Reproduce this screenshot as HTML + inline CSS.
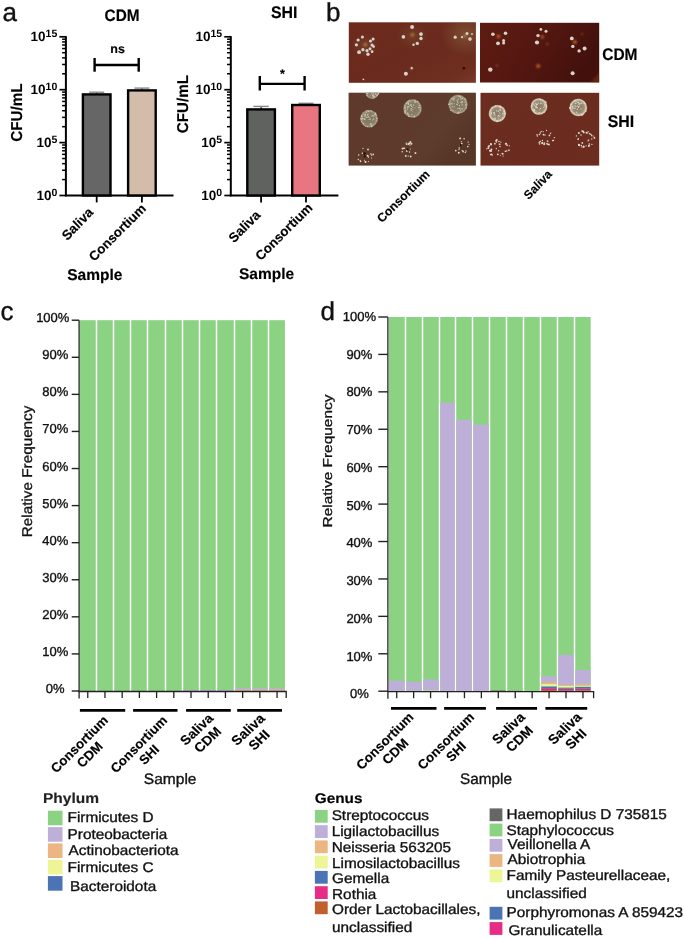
<!DOCTYPE html>
<html><head><meta charset="utf-8"><style>
html,body{margin:0;padding:0;background:#fff;}
svg{display:block;font-family:"Liberation Sans", sans-serif;}
text{text-rendering:geometricPrecision;}
svg{will-change:transform;}
</style></head><body>
<svg width="685" height="940" viewBox="0 0 685 940">
<rect width="685" height="940" fill="#fff"/>
<text x="2.60" y="20.60" font-size="26" text-anchor="start" fill="#111" stroke="#111" stroke-width="0.35">a</text>
<text x="326.00" y="20.60" font-size="26" text-anchor="start" fill="#111" stroke="#111" stroke-width="0.35">b</text>
<text x="0.60" y="320.20" font-size="26" text-anchor="start" fill="#111" stroke="#111" stroke-width="0.35">c</text>
<text x="320.60" y="320.20" font-size="26" text-anchor="start" fill="#111" stroke="#111" stroke-width="0.35">d</text>
<line x1="65.90" y1="36.10" x2="65.90" y2="196.30" stroke="#000" stroke-width="2"/>
<line x1="64.90" y1="195.50" x2="173.50" y2="195.50" stroke="#000" stroke-width="2"/>
<line x1="59.40" y1="36.80" x2="65.90" y2="36.80" stroke="#000" stroke-width="1.7"/>
<line x1="59.40" y1="89.70" x2="65.90" y2="89.70" stroke="#000" stroke-width="1.7"/>
<line x1="59.40" y1="142.60" x2="65.90" y2="142.60" stroke="#000" stroke-width="1.7"/>
<line x1="59.40" y1="195.50" x2="65.90" y2="195.50" stroke="#000" stroke-width="1.7"/>
<line x1="62.10" y1="73.78" x2="65.90" y2="73.78" stroke="#000" stroke-width="1.5"/>
<line x1="62.10" y1="64.46" x2="65.90" y2="64.46" stroke="#000" stroke-width="1.5"/>
<line x1="62.10" y1="57.85" x2="65.90" y2="57.85" stroke="#000" stroke-width="1.5"/>
<line x1="62.10" y1="52.72" x2="65.90" y2="52.72" stroke="#000" stroke-width="1.5"/>
<line x1="62.10" y1="48.54" x2="65.90" y2="48.54" stroke="#000" stroke-width="1.5"/>
<line x1="62.10" y1="44.99" x2="65.90" y2="44.99" stroke="#000" stroke-width="1.5"/>
<line x1="62.10" y1="41.93" x2="65.90" y2="41.93" stroke="#000" stroke-width="1.5"/>
<line x1="62.10" y1="39.22" x2="65.90" y2="39.22" stroke="#000" stroke-width="1.5"/>
<line x1="62.10" y1="126.68" x2="65.90" y2="126.68" stroke="#000" stroke-width="1.5"/>
<line x1="62.10" y1="117.36" x2="65.90" y2="117.36" stroke="#000" stroke-width="1.5"/>
<line x1="62.10" y1="110.75" x2="65.90" y2="110.75" stroke="#000" stroke-width="1.5"/>
<line x1="62.10" y1="105.62" x2="65.90" y2="105.62" stroke="#000" stroke-width="1.5"/>
<line x1="62.10" y1="101.44" x2="65.90" y2="101.44" stroke="#000" stroke-width="1.5"/>
<line x1="62.10" y1="97.89" x2="65.90" y2="97.89" stroke="#000" stroke-width="1.5"/>
<line x1="62.10" y1="94.83" x2="65.90" y2="94.83" stroke="#000" stroke-width="1.5"/>
<line x1="62.10" y1="92.12" x2="65.90" y2="92.12" stroke="#000" stroke-width="1.5"/>
<line x1="62.10" y1="179.58" x2="65.90" y2="179.58" stroke="#000" stroke-width="1.5"/>
<line x1="62.10" y1="170.26" x2="65.90" y2="170.26" stroke="#000" stroke-width="1.5"/>
<line x1="62.10" y1="163.65" x2="65.90" y2="163.65" stroke="#000" stroke-width="1.5"/>
<line x1="62.10" y1="158.52" x2="65.90" y2="158.52" stroke="#000" stroke-width="1.5"/>
<line x1="62.10" y1="154.34" x2="65.90" y2="154.34" stroke="#000" stroke-width="1.5"/>
<line x1="62.10" y1="150.79" x2="65.90" y2="150.79" stroke="#000" stroke-width="1.5"/>
<line x1="62.10" y1="147.73" x2="65.90" y2="147.73" stroke="#000" stroke-width="1.5"/>
<line x1="62.10" y1="145.02" x2="65.90" y2="145.02" stroke="#000" stroke-width="1.5"/>
<text x="57.30" y="41.40" font-size="13.5" font-weight="bold" text-anchor="end" fill="#000">10<tspan font-size="10.5" dy="-4.2">15</tspan></text>
<text x="57.30" y="94.30" font-size="13.5" font-weight="bold" text-anchor="end" fill="#000">10<tspan font-size="10.5" dy="-4.2">10</tspan></text>
<text x="57.30" y="147.20" font-size="13.5" font-weight="bold" text-anchor="end" fill="#000">10<tspan font-size="10.5" dy="-4.2">5</tspan></text>
<text x="57.30" y="200.10" font-size="13.5" font-weight="bold" text-anchor="end" fill="#000">10<tspan font-size="10.5" dy="-4.2">0</tspan></text>
<line x1="96.70" y1="92.20" x2="96.70" y2="94.20" stroke="#222" stroke-width="1.2"/>
<line x1="89.20" y1="92.20" x2="104.20" y2="92.20" stroke="#888" stroke-width="1.4"/>
<rect x="82.90" y="94.40" width="27.60" height="101.10" fill="#666666" stroke="#000" stroke-width="2.4"/>
<line x1="141.90" y1="88.10" x2="141.90" y2="90.20" stroke="#222" stroke-width="1.2"/>
<line x1="134.40" y1="88.10" x2="149.40" y2="88.10" stroke="#888" stroke-width="1.4"/>
<rect x="128.10" y="90.40" width="27.60" height="105.10" fill="#d3bca9" stroke="#000" stroke-width="2.4"/>
<line x1="96.70" y1="195.50" x2="96.70" y2="202.40" stroke="#000" stroke-width="1.8"/>
<line x1="141.90" y1="195.50" x2="141.90" y2="202.40" stroke="#000" stroke-width="1.8"/>
<line x1="94.60" y1="65.00" x2="138.70" y2="65.00" stroke="#000" stroke-width="2.3"/>
<line x1="94.60" y1="58.00" x2="94.60" y2="71.70" stroke="#000" stroke-width="2.4"/>
<line x1="138.70" y1="58.00" x2="138.70" y2="71.70" stroke="#000" stroke-width="2.4"/>
<text x="117.60" y="53.10" font-size="12.5" font-weight="bold" text-anchor="middle" fill="#000" stroke="#000" stroke-width="0.15">ns</text>
<g transform="translate(104.61 20.80) scale(0.9912 1.0700)"><text x="0" y="0" font-size="15.5" font-weight="bold" text-anchor="start" fill="#000" stroke="#000" stroke-width="0.15">CDM</text></g>
<g transform="translate(21.60 141.80) scale(1.0545 1.0140)"><text x="0" y="0" font-size="15" font-weight="bold" text-anchor="start" fill="#000" stroke="#000" stroke-width="0.15" transform="rotate(-90)">CFU/mL</text></g>
<g transform="translate(67.16 241.32) scale(0.9727 1.0233)"><text x="0" y="0" font-size="13.5" font-weight="bold" text-anchor="start" fill="#000" stroke="#000" stroke-width="0.15" transform="rotate(-45)">Saliva</text></g>
<g transform="translate(94.21 261.96) scale(0.9810 0.9818)"><text x="0" y="0" font-size="13.5" font-weight="bold" text-anchor="start" fill="#000" stroke="#000" stroke-width="0.15" transform="rotate(-45)">Consortium</text></g>
<g transform="translate(67.20 280.48) scale(1.0019 1.0071)"><text x="0" y="0" font-size="15.5" font-weight="bold" text-anchor="start" fill="#000" stroke="#000" stroke-width="0.15">Sample</text></g>
<line x1="230.80" y1="36.10" x2="230.80" y2="196.30" stroke="#000" stroke-width="2"/>
<line x1="229.80" y1="195.50" x2="338.40" y2="195.50" stroke="#000" stroke-width="2"/>
<line x1="224.30" y1="36.80" x2="230.80" y2="36.80" stroke="#000" stroke-width="1.7"/>
<line x1="224.30" y1="89.70" x2="230.80" y2="89.70" stroke="#000" stroke-width="1.7"/>
<line x1="224.30" y1="142.60" x2="230.80" y2="142.60" stroke="#000" stroke-width="1.7"/>
<line x1="224.30" y1="195.50" x2="230.80" y2="195.50" stroke="#000" stroke-width="1.7"/>
<line x1="227.00" y1="73.78" x2="230.80" y2="73.78" stroke="#000" stroke-width="1.5"/>
<line x1="227.00" y1="64.46" x2="230.80" y2="64.46" stroke="#000" stroke-width="1.5"/>
<line x1="227.00" y1="57.85" x2="230.80" y2="57.85" stroke="#000" stroke-width="1.5"/>
<line x1="227.00" y1="52.72" x2="230.80" y2="52.72" stroke="#000" stroke-width="1.5"/>
<line x1="227.00" y1="48.54" x2="230.80" y2="48.54" stroke="#000" stroke-width="1.5"/>
<line x1="227.00" y1="44.99" x2="230.80" y2="44.99" stroke="#000" stroke-width="1.5"/>
<line x1="227.00" y1="41.93" x2="230.80" y2="41.93" stroke="#000" stroke-width="1.5"/>
<line x1="227.00" y1="39.22" x2="230.80" y2="39.22" stroke="#000" stroke-width="1.5"/>
<line x1="227.00" y1="126.68" x2="230.80" y2="126.68" stroke="#000" stroke-width="1.5"/>
<line x1="227.00" y1="117.36" x2="230.80" y2="117.36" stroke="#000" stroke-width="1.5"/>
<line x1="227.00" y1="110.75" x2="230.80" y2="110.75" stroke="#000" stroke-width="1.5"/>
<line x1="227.00" y1="105.62" x2="230.80" y2="105.62" stroke="#000" stroke-width="1.5"/>
<line x1="227.00" y1="101.44" x2="230.80" y2="101.44" stroke="#000" stroke-width="1.5"/>
<line x1="227.00" y1="97.89" x2="230.80" y2="97.89" stroke="#000" stroke-width="1.5"/>
<line x1="227.00" y1="94.83" x2="230.80" y2="94.83" stroke="#000" stroke-width="1.5"/>
<line x1="227.00" y1="92.12" x2="230.80" y2="92.12" stroke="#000" stroke-width="1.5"/>
<line x1="227.00" y1="179.58" x2="230.80" y2="179.58" stroke="#000" stroke-width="1.5"/>
<line x1="227.00" y1="170.26" x2="230.80" y2="170.26" stroke="#000" stroke-width="1.5"/>
<line x1="227.00" y1="163.65" x2="230.80" y2="163.65" stroke="#000" stroke-width="1.5"/>
<line x1="227.00" y1="158.52" x2="230.80" y2="158.52" stroke="#000" stroke-width="1.5"/>
<line x1="227.00" y1="154.34" x2="230.80" y2="154.34" stroke="#000" stroke-width="1.5"/>
<line x1="227.00" y1="150.79" x2="230.80" y2="150.79" stroke="#000" stroke-width="1.5"/>
<line x1="227.00" y1="147.73" x2="230.80" y2="147.73" stroke="#000" stroke-width="1.5"/>
<line x1="227.00" y1="145.02" x2="230.80" y2="145.02" stroke="#000" stroke-width="1.5"/>
<text x="222.20" y="41.40" font-size="13.5" font-weight="bold" text-anchor="end" fill="#000">10<tspan font-size="10.5" dy="-4.2">15</tspan></text>
<text x="222.20" y="94.30" font-size="13.5" font-weight="bold" text-anchor="end" fill="#000">10<tspan font-size="10.5" dy="-4.2">10</tspan></text>
<text x="222.20" y="147.20" font-size="13.5" font-weight="bold" text-anchor="end" fill="#000">10<tspan font-size="10.5" dy="-4.2">5</tspan></text>
<text x="222.20" y="200.10" font-size="13.5" font-weight="bold" text-anchor="end" fill="#000">10<tspan font-size="10.5" dy="-4.2">0</tspan></text>
<line x1="261.10" y1="106.40" x2="261.10" y2="109.20" stroke="#222" stroke-width="1.2"/>
<line x1="253.40" y1="106.40" x2="268.80" y2="106.40" stroke="#888" stroke-width="1.4"/>
<rect x="247.30" y="109.40" width="27.60" height="86.10" fill="#606260" stroke="#000" stroke-width="2.4"/>
<line x1="306.00" y1="103.30" x2="306.00" y2="104.80" stroke="#222" stroke-width="1.2"/>
<line x1="298.50" y1="103.30" x2="313.50" y2="103.30" stroke="#888" stroke-width="1.4"/>
<rect x="292.20" y="105.00" width="27.60" height="90.50" fill="#e87680" stroke="#000" stroke-width="2.4"/>
<line x1="261.10" y1="195.50" x2="261.10" y2="202.40" stroke="#000" stroke-width="1.8"/>
<line x1="306.00" y1="195.50" x2="306.00" y2="202.40" stroke="#000" stroke-width="1.8"/>
<line x1="259.80" y1="83.80" x2="304.60" y2="83.80" stroke="#000" stroke-width="2.3"/>
<line x1="259.80" y1="76.00" x2="259.80" y2="90.50" stroke="#000" stroke-width="2.4"/>
<line x1="304.60" y1="76.00" x2="304.60" y2="90.50" stroke="#000" stroke-width="2.4"/>
<text x="282.50" y="77.50" font-size="12.5" font-weight="bold" text-anchor="middle" fill="#000" stroke="#000" stroke-width="0.15">*</text>
<g transform="translate(270.88 18.10) scale(1.0250 1.0800)"><text x="0" y="0" font-size="15.5" font-weight="bold" text-anchor="start" fill="#000" stroke="#000" stroke-width="0.15">SHI</text></g>
<g transform="translate(187.50 133.30) scale(1.0455 1.0123)"><text x="0" y="0" font-size="15" font-weight="bold" text-anchor="start" fill="#000" stroke="#000" stroke-width="0.15" transform="rotate(-90)">CFU/mL</text></g>
<g transform="translate(233.94 243.40) scale(0.9879 0.9967)"><text x="0" y="0" font-size="13.5" font-weight="bold" text-anchor="start" fill="#000" stroke="#000" stroke-width="0.15" transform="rotate(-45)">Saliva</text></g>
<g transform="translate(260.71 261.16) scale(0.9810 0.9818)"><text x="0" y="0" font-size="13.5" font-weight="bold" text-anchor="start" fill="#000" stroke="#000" stroke-width="0.15" transform="rotate(-45)">Consortium</text></g>
<g transform="translate(239.00 279.40) scale(0.9981 1.0000)"><text x="0" y="0" font-size="15.5" font-weight="bold" text-anchor="start" fill="#000" stroke="#000" stroke-width="0.15">Sample</text></g>
<defs>
<linearGradient id="g1" x1="0" y1="0" x2="1" y2="1">
 <stop offset="0" stop-color="#6c2b1c"/><stop offset="0.5" stop-color="#6a2a1d"/><stop offset="0.85" stop-color="#6e2e20"/><stop offset="1" stop-color="#7a3a28"/></linearGradient>
<linearGradient id="g2" x1="0" y1="0" x2="1" y2="0.3">
 <stop offset="0" stop-color="#5e1c12"/><stop offset="0.6" stop-color="#521610"/><stop offset="1" stop-color="#43110c"/></linearGradient>
<linearGradient id="g3" x1="0" y1="0" x2="1" y2="0.5">
 <stop offset="0" stop-color="#5f392b"/><stop offset="0.8" stop-color="#5d3b2d"/><stop offset="1" stop-color="#573628"/></linearGradient>
<linearGradient id="g4" x1="0" y1="0" x2="1" y2="1">
 <stop offset="0" stop-color="#6a2d20"/><stop offset="1" stop-color="#6c2c1f"/></linearGradient>
<radialGradient id="col1" cx="0.5" cy="0.5" r="0.5">
 <stop offset="0" stop-color="#7a705c"/><stop offset="0.7" stop-color="#8a806a"/><stop offset="0.9" stop-color="#a89e86"/><stop offset="1" stop-color="#968c74" stop-opacity="0.5"/></radialGradient>
<radialGradient id="col2" cx="0.5" cy="0.5" r="0.5">
 <stop offset="0" stop-color="#8a7a66"/><stop offset="0.65" stop-color="#9c8e78"/><stop offset="0.88" stop-color="#d8d0bc"/><stop offset="1" stop-color="#c0b49c" stop-opacity="0.5"/></radialGradient>
<radialGradient id="hl1" cx="0.5" cy="0.5" r="0.5"><stop offset="0" stop-color="#8a6a40" stop-opacity="0.55"/><stop offset="1" stop-color="#8a6a40" stop-opacity="0"/></radialGradient>
<filter id="bl" x="-50%" y="-50%" width="200%" height="200%"><feGaussianBlur stdDeviation="0.45"/></filter>
<filter id="bl2" x="-50%" y="-50%" width="200%" height="200%"><feGaussianBlur stdDeviation="0.9"/></filter>
<clipPath id="c1"><rect x="348.8" y="22.3" width="127.1" height="60.5"/></clipPath>
<clipPath id="c2"><rect x="480.0" y="22.8" width="119.2" height="59.7"/></clipPath>
<clipPath id="c3"><rect x="348.6" y="92.7" width="127.3" height="72.9"/></clipPath>
<clipPath id="c4"><rect x="480.5" y="92.8" width="118.7" height="72.8"/></clipPath>
</defs>
<rect x="348.8" y="22.3" width="127.1" height="60.5" fill="url(#g1)"/>
<g clip-path="url(#c1)"><ellipse cx="466" cy="34" rx="26" ry="22" fill="url(#hl1)"/><ellipse cx="412" cy="36" rx="16" ry="14" fill="url(#hl1)" opacity="0.5"/><ellipse cx="365" cy="46" rx="14" ry="13" fill="url(#hl1)" opacity="0.5"/></g>
<rect x="480.0" y="22.8" width="119.2" height="59.7" fill="url(#g2)"/>
<rect x="348.6" y="92.7" width="127.3" height="72.9" fill="url(#g3)"/>
<rect x="480.5" y="92.8" width="118.7" height="72.8" fill="url(#g4)"/>
<g clip-path="url(#c1)" filter="url(#bl2)" opacity="0.8">
<circle cx="365.4" cy="44.6" r="1.8" fill="#b8904a"/>
<circle cx="412.4" cy="34.7" r="1.8" fill="#b8904a"/>
<circle cx="465.0" cy="36.0" r="1.6" fill="#b8904a"/>
<circle cx="411.7" cy="68.2" r="1.2" fill="#b8904a"/>
</g>
<g clip-path="url(#c1)"><g filter="url(#bl)">
<circle cx="362.4" cy="36.9" r="1.5" fill="#d6d2cc"/>
<circle cx="358.1" cy="40.0" r="1.6" fill="#d6d2cc"/>
<circle cx="356.4" cy="44.8" r="1.6" fill="#d6d2cc"/>
<circle cx="359.1" cy="52.2" r="1.9" fill="#d6d2cc"/>
<circle cx="362.9" cy="49.7" r="1.6" fill="#d6d2cc"/>
<circle cx="367.0" cy="50.7" r="1.6" fill="#d6d2cc"/>
<circle cx="368.0" cy="54.3" r="1.7" fill="#d6d2cc"/>
<circle cx="370.0" cy="48.7" r="1.5" fill="#d6d2cc"/>
<circle cx="372.1" cy="45.1" r="1.6" fill="#d6d2cc"/>
<circle cx="370.5" cy="41.0" r="1.6" fill="#d6d2cc"/>
<circle cx="373.1" cy="39.0" r="1.5" fill="#d6d2cc"/>
<circle cx="373.6" cy="46.6" r="1.4" fill="#d6d2cc"/>
<circle cx="372.1" cy="51.7" r="1.4" fill="#d6d2cc"/>
<circle cx="363.4" cy="79.3" r="0.9" fill="#d6d2cc"/>
<circle cx="412.1" cy="26.9" r="2.0" fill="#d6d2cc"/>
<circle cx="403.4" cy="36.9" r="1.8" fill="#d6d2cc"/>
<circle cx="421.0" cy="34.1" r="1.9" fill="#d6d2cc"/>
<circle cx="421.0" cy="38.5" r="1.7" fill="#d6d2cc"/>
<circle cx="417.3" cy="43.4" r="1.7" fill="#d6d2cc"/>
<circle cx="413.5" cy="44.8" r="1.2" fill="#d6d2cc"/>
<circle cx="455.2" cy="37.2" r="1.6" fill="#d6d2cc"/>
<circle cx="462.0" cy="37.2" r="1.1" fill="#d6d2cc"/>
<circle cx="467.0" cy="33.5" r="1.5" fill="#d6d2cc"/>
<circle cx="470.0" cy="39.1" r="1.8" fill="#d6d2cc"/>
<circle cx="472.0" cy="34.0" r="0.9" fill="#d6d2cc"/>
<circle cx="405.9" cy="73.8" r="2.0" fill="#d6d2cc"/>
<circle cx="411.7" cy="68.2" r="1.1" fill="#d6d2cc"/>
</g></g>
<circle cx="463.9" cy="68.2" r="1.3" fill="#2a0a05" filter="url(#bl)"/>
<g clip-path="url(#c2)" filter="url(#bl2)" opacity="0.85">
<circle cx="498.5" cy="36.4" r="1.8" fill="#c8702e"/>
<circle cx="538.2" cy="66.0" r="2.0" fill="#c8702e"/>
<circle cx="542.4" cy="36.9" r="1.6" fill="#c8702e"/>
<circle cx="574.9" cy="42.0" r="2.0" fill="#c8702e"/>
<circle cx="582.2" cy="34.1" r="0.9" fill="#c8702e"/>
<circle cx="547.3" cy="44.0" r="0.9" fill="#c8702e"/>
<circle cx="497.0" cy="65.5" r="0.9" fill="#c8702e"/>
</g>
<g clip-path="url(#c2)"><g filter="url(#bl)">
<circle cx="492.9" cy="34.3" r="1.8" fill="#d8d2c8"/>
<circle cx="505.5" cy="33.3" r="1.8" fill="#d8d2c8"/>
<circle cx="503.6" cy="40.5" r="1.5" fill="#d8d2c8"/>
<circle cx="503.6" cy="43.0" r="1.5" fill="#d8d2c8"/>
<circle cx="498.0" cy="43.3" r="1.9" fill="#d8d2c8"/>
<circle cx="490.3" cy="69.6" r="2.2" fill="#d8d2c8"/>
<circle cx="540.9" cy="29.4" r="1.4" fill="#d8d2c8"/>
<circle cx="546.0" cy="31.3" r="1.5" fill="#d8d2c8"/>
<circle cx="538.0" cy="35.6" r="1.7" fill="#d8d2c8"/>
<circle cx="537.0" cy="42.5" r="2.1" fill="#d8d2c8"/>
<circle cx="571.8" cy="38.4" r="1.9" fill="#d8d2c8"/>
<circle cx="572.8" cy="46.4" r="1.7" fill="#d8d2c8"/>
<circle cx="579.1" cy="50.9" r="1.7" fill="#d8d2c8"/>
<circle cx="584.6" cy="48.5" r="2.0" fill="#d8d2c8"/>
<circle cx="572.6" cy="73.2" r="2.0" fill="#d8d2c8"/>
</g></g>
<g clip-path="url(#c2)"><path d="M590 83 L600 72 L600 83 Z" fill="#7a3018" opacity="0.6" filter="url(#bl2)"/></g>
<g clip-path="url(#c3)">
<circle cx="372.1" cy="92.0" r="7.0" fill="url(#col1)" filter="url(#bl)"/>
<g filter="url(#bl)" opacity="0.9">
<circle cx="367.3" cy="93.5" r="0.82" fill="#d4ccb6"/>
<circle cx="367.5" cy="93.0" r="0.68" fill="#d4ccb6"/>
<circle cx="374.0" cy="96.4" r="0.70" fill="#d4ccb6"/>
<circle cx="372.6" cy="90.0" r="0.57" fill="#d4ccb6"/>
<circle cx="377.1" cy="95.2" r="0.73" fill="#d4ccb6"/>
<circle cx="378.5" cy="93.7" r="0.84" fill="#d4ccb6"/>
<circle cx="369.1" cy="87.7" r="0.51" fill="#d4ccb6"/>
<circle cx="376.9" cy="92.5" r="0.47" fill="#d4ccb6"/>
<circle cx="373.3" cy="95.0" r="0.46" fill="#d4ccb6"/>
<circle cx="367.8" cy="93.0" r="0.79" fill="#d4ccb6"/>
<circle cx="366.8" cy="91.4" r="0.65" fill="#d4ccb6"/>
<circle cx="369.7" cy="88.2" r="0.56" fill="#d4ccb6"/>
<circle cx="378.7" cy="91.9" r="0.79" fill="#d4ccb6"/>
<circle cx="371.1" cy="88.4" r="0.54" fill="#d4ccb6"/>
<circle cx="371.7" cy="93.7" r="0.76" fill="#d4ccb6"/>
<circle cx="367.1" cy="95.6" r="0.60" fill="#d4ccb6"/>
<circle cx="378.0" cy="90.4" r="0.45" fill="#d4ccb6"/>
<circle cx="373.7" cy="98.1" r="0.64" fill="#d4ccb6"/>
<circle cx="376.3" cy="91.5" r="0.48" fill="#d4ccb6"/>
<circle cx="368.1" cy="87.7" r="0.56" fill="#d4ccb6"/>
<circle cx="375.4" cy="94.0" r="0.84" fill="#d4ccb6"/>
<circle cx="372.2" cy="89.7" r="0.55" fill="#d4ccb6"/>
<circle cx="373.4" cy="93.0" r="0.77" fill="#d4ccb6"/>
<circle cx="374.3" cy="96.5" r="0.63" fill="#d4ccb6"/>
<circle cx="374.2" cy="97.3" r="0.50" fill="#d4ccb6"/>
<circle cx="370.7" cy="90.2" r="0.62" fill="#d4ccb6"/>
<circle cx="372.9" cy="95.4" r="0.84" fill="#d4ccb6"/>
<circle cx="373.3" cy="88.5" r="0.80" fill="#d4ccb6"/>
<circle cx="373.1" cy="96.0" r="0.79" fill="#d4ccb6"/>
<circle cx="370.8" cy="90.4" r="0.85" fill="#d4ccb6"/>
<circle cx="372.9" cy="95.3" r="0.76" fill="#d4ccb6"/>
<circle cx="370.4" cy="95.2" r="0.48" fill="#d4ccb6"/>
<circle cx="376.4" cy="94.7" r="0.55" fill="#d4ccb6"/>
<circle cx="368.8" cy="89.6" r="0.63" fill="#d4ccb6"/>
<circle cx="376.6" cy="90.8" r="0.68" fill="#d4ccb6"/>
</g></g>
<g clip-path="url(#c3)">
<circle cx="369.0" cy="118.7" r="9.0" fill="url(#col1)" filter="url(#bl)"/>
<g filter="url(#bl)" opacity="0.9">
<circle cx="371.4" cy="116.0" r="0.51" fill="#d4ccb6"/>
<circle cx="375.5" cy="114.5" r="0.55" fill="#d4ccb6"/>
<circle cx="371.7" cy="125.5" r="0.83" fill="#d4ccb6"/>
<circle cx="371.7" cy="126.6" r="0.80" fill="#d4ccb6"/>
<circle cx="364.6" cy="115.3" r="0.49" fill="#d4ccb6"/>
<circle cx="377.1" cy="120.7" r="0.55" fill="#d4ccb6"/>
<circle cx="367.8" cy="114.5" r="0.78" fill="#d4ccb6"/>
<circle cx="365.2" cy="116.1" r="0.52" fill="#d4ccb6"/>
<circle cx="368.6" cy="116.5" r="0.54" fill="#d4ccb6"/>
<circle cx="361.6" cy="115.8" r="0.70" fill="#d4ccb6"/>
<circle cx="367.5" cy="126.7" r="0.53" fill="#d4ccb6"/>
<circle cx="373.4" cy="119.2" r="0.63" fill="#d4ccb6"/>
<circle cx="372.3" cy="120.0" r="0.60" fill="#d4ccb6"/>
<circle cx="366.2" cy="117.3" r="0.59" fill="#d4ccb6"/>
<circle cx="375.6" cy="113.3" r="0.71" fill="#d4ccb6"/>
<circle cx="366.6" cy="112.6" r="0.51" fill="#d4ccb6"/>
<circle cx="370.1" cy="119.0" r="0.81" fill="#d4ccb6"/>
<circle cx="366.5" cy="110.7" r="0.46" fill="#d4ccb6"/>
<circle cx="365.1" cy="114.2" r="0.74" fill="#d4ccb6"/>
<circle cx="365.4" cy="126.5" r="0.48" fill="#d4ccb6"/>
<circle cx="362.0" cy="116.6" r="0.81" fill="#d4ccb6"/>
<circle cx="368.4" cy="111.6" r="0.77" fill="#d4ccb6"/>
<circle cx="373.4" cy="116.1" r="0.72" fill="#d4ccb6"/>
<circle cx="375.5" cy="114.0" r="0.62" fill="#d4ccb6"/>
<circle cx="371.0" cy="111.0" r="0.68" fill="#d4ccb6"/>
<circle cx="365.3" cy="115.0" r="0.68" fill="#d4ccb6"/>
<circle cx="367.1" cy="117.2" r="0.71" fill="#d4ccb6"/>
<circle cx="377.0" cy="118.4" r="0.74" fill="#d4ccb6"/>
<circle cx="363.4" cy="123.4" r="0.68" fill="#d4ccb6"/>
<circle cx="361.7" cy="121.6" r="0.48" fill="#d4ccb6"/>
<circle cx="369.0" cy="117.2" r="0.69" fill="#d4ccb6"/>
<circle cx="364.9" cy="119.2" r="0.73" fill="#d4ccb6"/>
<circle cx="362.3" cy="118.8" r="0.82" fill="#d4ccb6"/>
<circle cx="369.0" cy="119.6" r="0.57" fill="#d4ccb6"/>
<circle cx="367.3" cy="115.2" r="0.52" fill="#d4ccb6"/>
<circle cx="374.8" cy="114.8" r="0.63" fill="#d4ccb6"/>
<circle cx="372.8" cy="115.6" r="0.72" fill="#d4ccb6"/>
<circle cx="370.8" cy="124.0" r="0.77" fill="#d4ccb6"/>
<circle cx="375.9" cy="114.6" r="0.60" fill="#d4ccb6"/>
<circle cx="364.8" cy="116.3" r="0.50" fill="#d4ccb6"/>
<circle cx="361.2" cy="118.9" r="0.79" fill="#d4ccb6"/>
<circle cx="367.0" cy="110.6" r="0.56" fill="#d4ccb6"/>
<circle cx="371.8" cy="123.7" r="0.56" fill="#d4ccb6"/>
<circle cx="370.2" cy="124.1" r="0.70" fill="#d4ccb6"/>
<circle cx="364.2" cy="118.9" r="0.79" fill="#d4ccb6"/>
</g></g>
<g clip-path="url(#c3)">
<circle cx="412.5" cy="108.5" r="9.4" fill="url(#col1)" filter="url(#bl)"/>
<g filter="url(#bl)" opacity="0.9">
<circle cx="418.5" cy="107.8" r="0.48" fill="#d4ccb6"/>
<circle cx="420.7" cy="110.1" r="0.47" fill="#d4ccb6"/>
<circle cx="410.8" cy="102.0" r="0.57" fill="#d4ccb6"/>
<circle cx="412.8" cy="107.3" r="0.50" fill="#d4ccb6"/>
<circle cx="411.2" cy="108.9" r="0.78" fill="#d4ccb6"/>
<circle cx="412.8" cy="111.8" r="0.47" fill="#d4ccb6"/>
<circle cx="408.4" cy="104.2" r="0.70" fill="#d4ccb6"/>
<circle cx="408.0" cy="101.9" r="0.83" fill="#d4ccb6"/>
<circle cx="410.9" cy="104.8" r="0.64" fill="#d4ccb6"/>
<circle cx="412.9" cy="109.3" r="0.64" fill="#d4ccb6"/>
<circle cx="411.7" cy="104.8" r="0.56" fill="#d4ccb6"/>
<circle cx="408.3" cy="114.6" r="0.66" fill="#d4ccb6"/>
<circle cx="406.7" cy="103.4" r="0.61" fill="#d4ccb6"/>
<circle cx="414.7" cy="100.3" r="0.48" fill="#d4ccb6"/>
<circle cx="419.4" cy="105.4" r="0.50" fill="#d4ccb6"/>
<circle cx="405.7" cy="110.5" r="0.81" fill="#d4ccb6"/>
<circle cx="407.7" cy="113.2" r="0.80" fill="#d4ccb6"/>
<circle cx="415.0" cy="100.2" r="0.64" fill="#d4ccb6"/>
<circle cx="410.2" cy="105.2" r="0.74" fill="#d4ccb6"/>
<circle cx="415.5" cy="102.0" r="0.74" fill="#d4ccb6"/>
<circle cx="414.4" cy="116.7" r="0.84" fill="#d4ccb6"/>
<circle cx="419.0" cy="107.6" r="0.77" fill="#d4ccb6"/>
<circle cx="408.9" cy="116.2" r="0.79" fill="#d4ccb6"/>
<circle cx="411.0" cy="110.6" r="0.63" fill="#d4ccb6"/>
<circle cx="405.1" cy="106.1" r="0.64" fill="#d4ccb6"/>
<circle cx="420.4" cy="109.9" r="0.48" fill="#d4ccb6"/>
<circle cx="413.6" cy="105.0" r="0.58" fill="#d4ccb6"/>
<circle cx="413.3" cy="105.2" r="0.51" fill="#d4ccb6"/>
<circle cx="404.9" cy="107.7" r="0.79" fill="#d4ccb6"/>
<circle cx="409.3" cy="100.4" r="0.65" fill="#d4ccb6"/>
<circle cx="415.0" cy="107.7" r="0.54" fill="#d4ccb6"/>
<circle cx="407.8" cy="107.7" r="0.74" fill="#d4ccb6"/>
<circle cx="408.3" cy="103.6" r="0.79" fill="#d4ccb6"/>
<circle cx="407.9" cy="106.7" r="0.60" fill="#d4ccb6"/>
<circle cx="417.3" cy="101.5" r="0.53" fill="#d4ccb6"/>
<circle cx="417.7" cy="101.4" r="0.66" fill="#d4ccb6"/>
<circle cx="408.9" cy="106.7" r="0.66" fill="#d4ccb6"/>
<circle cx="405.6" cy="108.4" r="0.46" fill="#d4ccb6"/>
<circle cx="418.8" cy="107.3" r="0.61" fill="#d4ccb6"/>
<circle cx="414.6" cy="102.1" r="0.65" fill="#d4ccb6"/>
<circle cx="411.7" cy="106.4" r="0.67" fill="#d4ccb6"/>
<circle cx="405.0" cy="113.0" r="0.82" fill="#d4ccb6"/>
<circle cx="411.8" cy="114.6" r="0.50" fill="#d4ccb6"/>
<circle cx="405.1" cy="111.8" r="0.81" fill="#d4ccb6"/>
<circle cx="407.5" cy="109.2" r="0.53" fill="#d4ccb6"/>
</g></g>
<g clip-path="url(#c3)">
<circle cx="458.0" cy="104.4" r="9.8" fill="url(#col1)" filter="url(#bl)"/>
<g filter="url(#bl)" opacity="0.9">
<circle cx="451.4" cy="98.4" r="0.50" fill="#d4ccb6"/>
<circle cx="458.3" cy="103.0" r="0.53" fill="#d4ccb6"/>
<circle cx="459.1" cy="112.0" r="0.58" fill="#d4ccb6"/>
<circle cx="453.5" cy="110.2" r="0.49" fill="#d4ccb6"/>
<circle cx="457.6" cy="101.2" r="0.65" fill="#d4ccb6"/>
<circle cx="458.0" cy="108.5" r="0.66" fill="#d4ccb6"/>
<circle cx="452.7" cy="106.6" r="0.62" fill="#d4ccb6"/>
<circle cx="454.3" cy="103.7" r="0.53" fill="#d4ccb6"/>
<circle cx="453.0" cy="98.9" r="0.66" fill="#d4ccb6"/>
<circle cx="462.3" cy="98.5" r="0.79" fill="#d4ccb6"/>
<circle cx="458.9" cy="112.4" r="0.77" fill="#d4ccb6"/>
<circle cx="462.3" cy="101.4" r="0.58" fill="#d4ccb6"/>
<circle cx="461.8" cy="102.4" r="0.85" fill="#d4ccb6"/>
<circle cx="460.6" cy="102.2" r="0.55" fill="#d4ccb6"/>
<circle cx="457.3" cy="99.7" r="0.49" fill="#d4ccb6"/>
<circle cx="461.0" cy="99.1" r="0.77" fill="#d4ccb6"/>
<circle cx="462.2" cy="108.6" r="0.72" fill="#d4ccb6"/>
<circle cx="462.1" cy="104.9" r="0.72" fill="#d4ccb6"/>
<circle cx="465.8" cy="99.6" r="0.50" fill="#d4ccb6"/>
<circle cx="449.9" cy="104.1" r="0.65" fill="#d4ccb6"/>
<circle cx="456.4" cy="100.7" r="0.48" fill="#d4ccb6"/>
<circle cx="459.4" cy="105.5" r="0.67" fill="#d4ccb6"/>
<circle cx="451.0" cy="103.7" r="0.51" fill="#d4ccb6"/>
<circle cx="459.7" cy="108.3" r="0.79" fill="#d4ccb6"/>
<circle cx="466.9" cy="103.9" r="0.49" fill="#d4ccb6"/>
<circle cx="466.4" cy="107.8" r="0.63" fill="#d4ccb6"/>
<circle cx="458.5" cy="99.1" r="0.64" fill="#d4ccb6"/>
<circle cx="451.9" cy="103.8" r="0.69" fill="#d4ccb6"/>
<circle cx="465.8" cy="105.0" r="0.79" fill="#d4ccb6"/>
<circle cx="460.6" cy="110.1" r="0.75" fill="#d4ccb6"/>
<circle cx="454.6" cy="106.7" r="0.52" fill="#d4ccb6"/>
<circle cx="456.8" cy="104.3" r="0.81" fill="#d4ccb6"/>
<circle cx="460.5" cy="97.0" r="0.79" fill="#d4ccb6"/>
<circle cx="453.9" cy="100.1" r="0.69" fill="#d4ccb6"/>
<circle cx="448.8" cy="104.2" r="0.77" fill="#d4ccb6"/>
<circle cx="457.5" cy="113.3" r="0.75" fill="#d4ccb6"/>
<circle cx="459.5" cy="96.1" r="0.61" fill="#d4ccb6"/>
<circle cx="465.0" cy="99.1" r="0.73" fill="#d4ccb6"/>
<circle cx="458.9" cy="96.3" r="0.61" fill="#d4ccb6"/>
<circle cx="457.6" cy="102.0" r="0.59" fill="#d4ccb6"/>
<circle cx="457.1" cy="104.6" r="0.59" fill="#d4ccb6"/>
<circle cx="453.3" cy="98.8" r="0.54" fill="#d4ccb6"/>
<circle cx="465.1" cy="101.8" r="0.59" fill="#d4ccb6"/>
<circle cx="454.2" cy="98.5" r="0.66" fill="#d4ccb6"/>
<circle cx="450.8" cy="110.4" r="0.71" fill="#d4ccb6"/>
</g></g>
<g clip-path="url(#c3)"><g filter="url(#bl)">
<circle cx="363.0" cy="148.4" r="0.56" fill="#e2dccf"/>
<circle cx="362.4" cy="153.3" r="0.73" fill="#e2dccf"/>
<circle cx="371.6" cy="158.0" r="0.59" fill="#e2dccf"/>
<circle cx="365.4" cy="161.9" r="0.78" fill="#e2dccf"/>
<circle cx="373.2" cy="154.4" r="0.84" fill="#e2dccf"/>
<circle cx="368.0" cy="149.5" r="0.89" fill="#e2dccf"/>
<circle cx="368.5" cy="156.9" r="0.76" fill="#e2dccf"/>
<circle cx="368.4" cy="161.5" r="0.58" fill="#e2dccf"/>
<circle cx="370.9" cy="154.0" r="0.82" fill="#e2dccf"/>
<circle cx="360.6" cy="161.4" r="0.80" fill="#e2dccf"/>
<circle cx="364.5" cy="160.3" r="0.56" fill="#e2dccf"/>
<circle cx="365.6" cy="162.0" r="0.89" fill="#e2dccf"/>
<circle cx="360.1" cy="160.4" r="0.57" fill="#e2dccf"/>
<circle cx="367.6" cy="155.8" r="0.96" fill="#e2dccf"/>
<circle cx="358.3" cy="159.4" r="0.66" fill="#e2dccf"/>
<circle cx="358.7" cy="155.0" r="0.76" fill="#e2dccf"/>
<circle cx="371.6" cy="155.2" r="0.60" fill="#e2dccf"/>
<circle cx="362.8" cy="153.5" r="0.57" fill="#e2dccf"/>
<circle cx="364.5" cy="153.5" r="1.2" fill="#1e0c06"/>
<circle cx="364.8" cy="156.5" r="1.0" fill="#1e0c06"/>
</g></g>
<g clip-path="url(#c3)"><g filter="url(#bl)">
<circle cx="402.4" cy="148.6" r="0.85" fill="#e2dccf"/>
<circle cx="402.3" cy="151.7" r="0.74" fill="#e2dccf"/>
<circle cx="410.4" cy="141.9" r="0.98" fill="#e2dccf"/>
<circle cx="408.4" cy="144.0" r="0.95" fill="#e2dccf"/>
<circle cx="410.0" cy="145.1" r="0.67" fill="#e2dccf"/>
<circle cx="406.6" cy="144.2" r="0.83" fill="#e2dccf"/>
<circle cx="409.1" cy="143.6" r="0.99" fill="#e2dccf"/>
<circle cx="410.4" cy="149.0" r="0.58" fill="#e2dccf"/>
<circle cx="408.2" cy="156.1" r="0.60" fill="#e2dccf"/>
<circle cx="403.4" cy="148.3" r="0.85" fill="#e2dccf"/>
<circle cx="404.4" cy="148.3" r="0.77" fill="#e2dccf"/>
<circle cx="410.7" cy="156.5" r="0.93" fill="#e2dccf"/>
<circle cx="415.7" cy="153.2" r="0.83" fill="#e2dccf"/>
<circle cx="409.8" cy="143.2" r="0.67" fill="#e2dccf"/>
<circle cx="411.4" cy="143.8" r="1.00" fill="#e2dccf"/>
<circle cx="405.8" cy="155.9" r="0.96" fill="#e2dccf"/>
<circle cx="406.8" cy="150.9" r="0.94" fill="#e2dccf"/>
<circle cx="415.1" cy="153.1" r="0.77" fill="#e2dccf"/>
<circle cx="406.1" cy="142.9" r="0.58" fill="#e2dccf"/>
<circle cx="409.5" cy="152.0" r="0.69" fill="#e2dccf"/>
<circle cx="407.5" cy="149.5" r="1.0" fill="#1e0c06"/>
</g></g>
<g clip-path="url(#c3)"><g filter="url(#bl)">
<circle cx="461.3" cy="141.6" r="0.61" fill="#e2dccf"/>
<circle cx="459.0" cy="149.6" r="0.60" fill="#e2dccf"/>
<circle cx="460.1" cy="138.4" r="0.97" fill="#e2dccf"/>
<circle cx="468.1" cy="142.1" r="0.69" fill="#e2dccf"/>
<circle cx="458.8" cy="152.8" r="0.95" fill="#e2dccf"/>
<circle cx="462.1" cy="150.6" r="0.71" fill="#e2dccf"/>
<circle cx="459.2" cy="148.0" r="0.80" fill="#e2dccf"/>
<circle cx="464.1" cy="138.8" r="0.80" fill="#e2dccf"/>
<circle cx="465.3" cy="152.5" r="0.68" fill="#e2dccf"/>
<circle cx="467.8" cy="146.6" r="0.81" fill="#e2dccf"/>
<circle cx="469.0" cy="144.3" r="0.58" fill="#e2dccf"/>
<circle cx="459.8" cy="145.1" r="0.59" fill="#e2dccf"/>
<circle cx="461.8" cy="143.5" r="0.84" fill="#e2dccf"/>
<circle cx="466.0" cy="150.9" r="0.66" fill="#e2dccf"/>
<circle cx="463.1" cy="151.5" r="0.89" fill="#e2dccf"/>
<circle cx="455.8" cy="150.6" r="0.85" fill="#e2dccf"/>
<circle cx="460.5" cy="145.0" r="1.1" fill="#1e0c06"/>
</g></g>
<g clip-path="url(#c4)">
<circle cx="497.4" cy="113.5" r="8.8" fill="url(#col2)" filter="url(#bl)"/>
<g filter="url(#bl)" opacity="0.9">
<circle cx="491.3" cy="113.7" r="0.74" fill="#e4dccb"/>
<circle cx="495.3" cy="105.8" r="0.61" fill="#e4dccb"/>
<circle cx="500.5" cy="107.4" r="0.79" fill="#e4dccb"/>
<circle cx="500.0" cy="106.3" r="0.81" fill="#e4dccb"/>
<circle cx="503.9" cy="111.7" r="0.66" fill="#e4dccb"/>
<circle cx="495.5" cy="106.2" r="0.62" fill="#e4dccb"/>
<circle cx="494.6" cy="115.0" r="0.75" fill="#e4dccb"/>
<circle cx="502.5" cy="113.2" r="0.52" fill="#e4dccb"/>
<circle cx="498.9" cy="118.7" r="0.57" fill="#e4dccb"/>
<circle cx="499.4" cy="113.1" r="0.57" fill="#e4dccb"/>
<circle cx="502.5" cy="117.9" r="0.76" fill="#e4dccb"/>
<circle cx="498.3" cy="115.4" r="0.63" fill="#e4dccb"/>
<circle cx="490.5" cy="109.5" r="0.46" fill="#e4dccb"/>
<circle cx="500.2" cy="115.8" r="0.54" fill="#e4dccb"/>
<circle cx="498.0" cy="120.6" r="0.69" fill="#e4dccb"/>
<circle cx="498.0" cy="117.0" r="0.56" fill="#e4dccb"/>
<circle cx="500.8" cy="119.9" r="0.57" fill="#e4dccb"/>
<circle cx="490.2" cy="111.2" r="0.64" fill="#e4dccb"/>
<circle cx="496.9" cy="121.4" r="0.82" fill="#e4dccb"/>
<circle cx="494.0" cy="118.7" r="0.83" fill="#e4dccb"/>
<circle cx="493.5" cy="113.9" r="0.47" fill="#e4dccb"/>
<circle cx="504.5" cy="111.1" r="0.60" fill="#e4dccb"/>
<circle cx="491.5" cy="112.5" r="0.56" fill="#e4dccb"/>
<circle cx="504.2" cy="113.1" r="0.55" fill="#e4dccb"/>
<circle cx="503.1" cy="113.9" r="0.60" fill="#e4dccb"/>
<circle cx="499.4" cy="106.7" r="0.69" fill="#e4dccb"/>
<circle cx="499.2" cy="116.3" r="0.58" fill="#e4dccb"/>
<circle cx="496.9" cy="121.3" r="0.66" fill="#e4dccb"/>
<circle cx="492.0" cy="107.2" r="0.56" fill="#e4dccb"/>
<circle cx="494.2" cy="112.8" r="0.76" fill="#e4dccb"/>
<circle cx="505.0" cy="113.6" r="0.79" fill="#e4dccb"/>
<circle cx="498.5" cy="111.3" r="0.56" fill="#e4dccb"/>
<circle cx="496.9" cy="111.0" r="0.64" fill="#e4dccb"/>
<circle cx="489.4" cy="115.1" r="0.68" fill="#e4dccb"/>
<circle cx="500.3" cy="109.9" r="0.77" fill="#e4dccb"/>
<circle cx="490.5" cy="117.5" r="0.49" fill="#e4dccb"/>
<circle cx="499.2" cy="110.1" r="0.67" fill="#e4dccb"/>
<circle cx="494.1" cy="113.0" r="0.78" fill="#e4dccb"/>
<circle cx="495.6" cy="117.8" r="0.48" fill="#e4dccb"/>
<circle cx="495.4" cy="118.9" r="0.74" fill="#e4dccb"/>
</g></g>
<g clip-path="url(#c4)">
<circle cx="539.0" cy="106.5" r="8.6" fill="url(#col2)" filter="url(#bl)"/>
<g filter="url(#bl)" opacity="0.9">
<circle cx="534.7" cy="111.7" r="0.49" fill="#e4dccb"/>
<circle cx="534.6" cy="109.9" r="0.84" fill="#e4dccb"/>
<circle cx="542.2" cy="100.7" r="0.45" fill="#e4dccb"/>
<circle cx="534.1" cy="111.3" r="0.54" fill="#e4dccb"/>
<circle cx="533.9" cy="104.3" r="0.45" fill="#e4dccb"/>
<circle cx="546.3" cy="106.1" r="0.53" fill="#e4dccb"/>
<circle cx="535.7" cy="103.6" r="0.60" fill="#e4dccb"/>
<circle cx="534.7" cy="105.4" r="0.58" fill="#e4dccb"/>
<circle cx="533.8" cy="110.7" r="0.55" fill="#e4dccb"/>
<circle cx="541.2" cy="113.1" r="0.58" fill="#e4dccb"/>
<circle cx="544.8" cy="104.4" r="0.74" fill="#e4dccb"/>
<circle cx="535.4" cy="113.0" r="0.49" fill="#e4dccb"/>
<circle cx="540.6" cy="108.4" r="0.72" fill="#e4dccb"/>
<circle cx="538.1" cy="103.2" r="0.61" fill="#e4dccb"/>
<circle cx="542.3" cy="101.1" r="0.49" fill="#e4dccb"/>
<circle cx="539.5" cy="109.7" r="0.50" fill="#e4dccb"/>
<circle cx="537.2" cy="107.7" r="0.82" fill="#e4dccb"/>
<circle cx="533.8" cy="109.1" r="0.71" fill="#e4dccb"/>
<circle cx="539.8" cy="99.1" r="0.60" fill="#e4dccb"/>
<circle cx="536.4" cy="111.1" r="0.46" fill="#e4dccb"/>
<circle cx="533.5" cy="110.5" r="0.84" fill="#e4dccb"/>
<circle cx="540.6" cy="100.1" r="0.69" fill="#e4dccb"/>
<circle cx="543.7" cy="107.0" r="0.59" fill="#e4dccb"/>
<circle cx="537.4" cy="104.3" r="0.60" fill="#e4dccb"/>
<circle cx="531.8" cy="106.1" r="0.78" fill="#e4dccb"/>
<circle cx="536.5" cy="104.4" r="0.76" fill="#e4dccb"/>
<circle cx="544.0" cy="103.0" r="0.59" fill="#e4dccb"/>
<circle cx="535.9" cy="106.5" r="0.74" fill="#e4dccb"/>
<circle cx="544.8" cy="106.0" r="0.74" fill="#e4dccb"/>
<circle cx="540.9" cy="103.4" r="0.83" fill="#e4dccb"/>
<circle cx="536.5" cy="103.9" r="0.48" fill="#e4dccb"/>
<circle cx="539.2" cy="112.7" r="0.73" fill="#e4dccb"/>
<circle cx="535.2" cy="113.4" r="0.59" fill="#e4dccb"/>
<circle cx="536.2" cy="107.2" r="0.84" fill="#e4dccb"/>
<circle cx="544.1" cy="112.3" r="0.67" fill="#e4dccb"/>
<circle cx="533.3" cy="104.2" r="0.56" fill="#e4dccb"/>
<circle cx="545.9" cy="102.1" r="0.78" fill="#e4dccb"/>
<circle cx="536.7" cy="104.8" r="0.78" fill="#e4dccb"/>
<circle cx="537.1" cy="114.0" r="0.55" fill="#e4dccb"/>
<circle cx="532.3" cy="103.2" r="0.52" fill="#e4dccb"/>
</g></g>
<g clip-path="url(#c4)">
<circle cx="578.3" cy="107.5" r="9.0" fill="url(#col2)" filter="url(#bl)"/>
<g filter="url(#bl)" opacity="0.9">
<circle cx="576.0" cy="106.8" r="0.46" fill="#e4dccb"/>
<circle cx="581.9" cy="115.2" r="0.83" fill="#e4dccb"/>
<circle cx="575.7" cy="103.5" r="0.72" fill="#e4dccb"/>
<circle cx="577.9" cy="102.2" r="0.69" fill="#e4dccb"/>
<circle cx="578.7" cy="106.5" r="0.53" fill="#e4dccb"/>
<circle cx="575.1" cy="108.1" r="0.60" fill="#e4dccb"/>
<circle cx="575.1" cy="106.0" r="0.66" fill="#e4dccb"/>
<circle cx="577.7" cy="113.9" r="0.58" fill="#e4dccb"/>
<circle cx="577.3" cy="106.2" r="0.72" fill="#e4dccb"/>
<circle cx="583.4" cy="114.1" r="0.69" fill="#e4dccb"/>
<circle cx="572.9" cy="108.5" r="0.70" fill="#e4dccb"/>
<circle cx="575.5" cy="100.6" r="0.75" fill="#e4dccb"/>
<circle cx="569.8" cy="108.3" r="0.79" fill="#e4dccb"/>
<circle cx="581.7" cy="103.2" r="0.62" fill="#e4dccb"/>
<circle cx="570.9" cy="104.2" r="0.66" fill="#e4dccb"/>
<circle cx="572.7" cy="106.6" r="0.81" fill="#e4dccb"/>
<circle cx="577.4" cy="109.3" r="0.74" fill="#e4dccb"/>
<circle cx="584.2" cy="103.2" r="0.69" fill="#e4dccb"/>
<circle cx="578.4" cy="102.8" r="0.69" fill="#e4dccb"/>
<circle cx="581.0" cy="108.8" r="0.63" fill="#e4dccb"/>
<circle cx="572.9" cy="107.4" r="0.47" fill="#e4dccb"/>
<circle cx="576.2" cy="101.7" r="0.55" fill="#e4dccb"/>
<circle cx="576.4" cy="112.5" r="0.54" fill="#e4dccb"/>
<circle cx="585.7" cy="110.9" r="0.84" fill="#e4dccb"/>
<circle cx="574.3" cy="100.6" r="0.62" fill="#e4dccb"/>
<circle cx="579.7" cy="103.7" r="0.75" fill="#e4dccb"/>
<circle cx="570.9" cy="104.2" r="0.49" fill="#e4dccb"/>
<circle cx="579.1" cy="104.6" r="0.67" fill="#e4dccb"/>
<circle cx="578.5" cy="107.4" r="0.55" fill="#e4dccb"/>
<circle cx="576.8" cy="112.1" r="0.48" fill="#e4dccb"/>
<circle cx="584.4" cy="102.8" r="0.61" fill="#e4dccb"/>
<circle cx="574.2" cy="112.6" r="0.47" fill="#e4dccb"/>
<circle cx="586.2" cy="109.1" r="0.57" fill="#e4dccb"/>
<circle cx="570.0" cy="107.6" r="0.84" fill="#e4dccb"/>
<circle cx="574.5" cy="108.2" r="0.57" fill="#e4dccb"/>
<circle cx="585.5" cy="103.7" r="0.53" fill="#e4dccb"/>
<circle cx="581.0" cy="103.2" r="0.64" fill="#e4dccb"/>
<circle cx="582.1" cy="114.6" r="0.85" fill="#e4dccb"/>
<circle cx="580.3" cy="114.0" r="0.53" fill="#e4dccb"/>
<circle cx="579.7" cy="106.2" r="0.49" fill="#e4dccb"/>
</g></g>
<g clip-path="url(#c4)"><g filter="url(#bl)">
<circle cx="496.8" cy="140.0" r="0.94" fill="#e2dccf"/>
<circle cx="496.1" cy="140.7" r="0.97" fill="#e2dccf"/>
<circle cx="489.9" cy="150.4" r="0.69" fill="#e2dccf"/>
<circle cx="496.4" cy="142.0" r="0.66" fill="#e2dccf"/>
<circle cx="494.9" cy="143.7" r="0.85" fill="#e2dccf"/>
<circle cx="505.5" cy="143.9" r="0.69" fill="#e2dccf"/>
<circle cx="507.0" cy="145.2" r="0.84" fill="#e2dccf"/>
<circle cx="505.3" cy="151.2" r="0.79" fill="#e2dccf"/>
<circle cx="488.2" cy="146.8" r="0.68" fill="#e2dccf"/>
<circle cx="498.6" cy="150.7" r="0.68" fill="#e2dccf"/>
<circle cx="498.9" cy="141.5" r="0.80" fill="#e2dccf"/>
<circle cx="503.2" cy="156.0" r="0.57" fill="#e2dccf"/>
<circle cx="491.4" cy="149.5" r="0.97" fill="#e2dccf"/>
<circle cx="488.2" cy="148.2" r="0.84" fill="#e2dccf"/>
<circle cx="491.5" cy="154.3" r="0.78" fill="#e2dccf"/>
<circle cx="488.7" cy="148.0" r="0.78" fill="#e2dccf"/>
<circle cx="509.3" cy="145.8" r="0.62" fill="#e2dccf"/>
<circle cx="490.8" cy="143.8" r="0.90" fill="#e2dccf"/>
<circle cx="499.9" cy="144.2" r="0.77" fill="#e2dccf"/>
<circle cx="500.4" cy="155.3" r="0.57" fill="#e2dccf"/>
<circle cx="491.1" cy="144.5" r="0.94" fill="#e2dccf"/>
<circle cx="502.2" cy="153.6" r="0.77" fill="#e2dccf"/>
<circle cx="490.0" cy="150.8" r="0.91" fill="#e2dccf"/>
<circle cx="506.7" cy="151.0" r="0.79" fill="#e2dccf"/>
<circle cx="500.9" cy="142.1" r="0.69" fill="#e2dccf"/>
<circle cx="508.9" cy="150.2" r="0.79" fill="#e2dccf"/>
<circle cx="497.8" cy="154.3" r="0.92" fill="#e2dccf"/>
<circle cx="502.8" cy="153.8" r="0.86" fill="#e2dccf"/>
<circle cx="500.0" cy="146.4" r="0.73" fill="#e2dccf"/>
<circle cx="490.8" cy="154.5" r="0.57" fill="#e2dccf"/>
<circle cx="486.7" cy="148.8" r="0.62" fill="#e2dccf"/>
<circle cx="496.3" cy="148.7" r="0.66" fill="#e2dccf"/>
<circle cx="506.2" cy="143.8" r="0.68" fill="#e2dccf"/>
<circle cx="491.0" cy="151.0" r="1.00" fill="#e2dccf"/>
<circle cx="499.1" cy="144.1" r="0.66" fill="#e2dccf"/>
<circle cx="489.1" cy="145.9" r="0.97" fill="#e2dccf"/>
<circle cx="490.8" cy="154.6" r="0.82" fill="#e2dccf"/>
<circle cx="509.0" cy="150.1" r="0.58" fill="#e2dccf"/>
<circle cx="492.2" cy="155.0" r="0.82" fill="#e2dccf"/>
<circle cx="506.0" cy="143.6" r="0.93" fill="#e2dccf"/>
</g></g>
<g clip-path="url(#c4)"><g filter="url(#bl)">
<circle cx="542.4" cy="140.5" r="0.71" fill="#e2dccf"/>
<circle cx="547.2" cy="141.0" r="0.64" fill="#e2dccf"/>
<circle cx="547.3" cy="144.2" r="0.75" fill="#e2dccf"/>
<circle cx="554.4" cy="137.7" r="0.64" fill="#e2dccf"/>
<circle cx="539.2" cy="142.9" r="0.71" fill="#e2dccf"/>
<circle cx="544.5" cy="144.0" r="0.67" fill="#e2dccf"/>
<circle cx="539.3" cy="142.2" r="0.67" fill="#e2dccf"/>
<circle cx="539.6" cy="144.0" r="0.71" fill="#e2dccf"/>
<circle cx="546.5" cy="130.4" r="0.56" fill="#e2dccf"/>
<circle cx="542.6" cy="143.2" r="0.95" fill="#e2dccf"/>
<circle cx="542.5" cy="143.1" r="0.57" fill="#e2dccf"/>
<circle cx="540.3" cy="141.5" r="0.62" fill="#e2dccf"/>
<circle cx="539.4" cy="134.4" r="0.74" fill="#e2dccf"/>
<circle cx="537.3" cy="136.0" r="0.67" fill="#e2dccf"/>
<circle cx="545.0" cy="135.0" r="0.64" fill="#e2dccf"/>
<circle cx="544.5" cy="143.0" r="0.72" fill="#e2dccf"/>
<circle cx="550.6" cy="133.3" r="0.71" fill="#e2dccf"/>
<circle cx="547.0" cy="143.5" r="0.83" fill="#e2dccf"/>
<circle cx="537.0" cy="134.8" r="0.68" fill="#e2dccf"/>
<circle cx="543.5" cy="134.7" r="0.86" fill="#e2dccf"/>
<circle cx="541.2" cy="131.5" r="0.66" fill="#e2dccf"/>
<circle cx="540.3" cy="133.1" r="0.73" fill="#e2dccf"/>
<circle cx="552.7" cy="140.4" r="0.77" fill="#e2dccf"/>
<circle cx="544.1" cy="144.5" r="0.76" fill="#e2dccf"/>
<circle cx="547.9" cy="141.4" r="0.59" fill="#e2dccf"/>
<circle cx="541.7" cy="143.0" r="0.81" fill="#e2dccf"/>
<circle cx="543.2" cy="131.6" r="0.56" fill="#e2dccf"/>
<circle cx="540.3" cy="141.6" r="0.73" fill="#e2dccf"/>
<circle cx="553.4" cy="140.4" r="0.76" fill="#e2dccf"/>
<circle cx="542.5" cy="143.0" r="0.71" fill="#e2dccf"/>
<circle cx="549.4" cy="135.4" r="0.85" fill="#e2dccf"/>
<circle cx="548.9" cy="144.5" r="0.98" fill="#e2dccf"/>
</g></g>
<g clip-path="url(#c4)"><g filter="url(#bl)">
<circle cx="579.2" cy="145.3" r="0.90" fill="#e2dccf"/>
<circle cx="581.0" cy="135.1" r="0.74" fill="#e2dccf"/>
<circle cx="584.0" cy="146.9" r="0.72" fill="#e2dccf"/>
<circle cx="591.7" cy="135.6" r="0.78" fill="#e2dccf"/>
<circle cx="581.9" cy="146.9" r="0.62" fill="#e2dccf"/>
<circle cx="588.7" cy="146.2" r="0.66" fill="#e2dccf"/>
<circle cx="591.8" cy="139.0" r="0.66" fill="#e2dccf"/>
<circle cx="578.1" cy="139.3" r="0.83" fill="#e2dccf"/>
<circle cx="576.4" cy="135.9" r="0.70" fill="#e2dccf"/>
<circle cx="582.3" cy="142.9" r="0.87" fill="#e2dccf"/>
<circle cx="582.2" cy="131.1" r="0.92" fill="#e2dccf"/>
<circle cx="589.3" cy="144.0" r="0.80" fill="#e2dccf"/>
<circle cx="579.2" cy="144.7" r="0.79" fill="#e2dccf"/>
<circle cx="586.1" cy="145.8" r="0.63" fill="#e2dccf"/>
<circle cx="578.3" cy="138.5" r="0.58" fill="#e2dccf"/>
<circle cx="588.2" cy="140.7" r="0.75" fill="#e2dccf"/>
<circle cx="586.5" cy="132.7" r="0.94" fill="#e2dccf"/>
<circle cx="590.8" cy="134.2" r="0.78" fill="#e2dccf"/>
<circle cx="588.1" cy="131.6" r="0.66" fill="#e2dccf"/>
<circle cx="583.8" cy="132.4" r="0.89" fill="#e2dccf"/>
<circle cx="589.6" cy="133.7" r="0.74" fill="#e2dccf"/>
<circle cx="583.1" cy="131.5" r="0.91" fill="#e2dccf"/>
<circle cx="591.9" cy="144.4" r="0.65" fill="#e2dccf"/>
<circle cx="589.0" cy="145.8" r="0.97" fill="#e2dccf"/>
<circle cx="594.4" cy="137.6" r="0.74" fill="#e2dccf"/>
<circle cx="578.9" cy="132.9" r="0.99" fill="#e2dccf"/>
<circle cx="588.8" cy="139.9" r="0.57" fill="#e2dccf"/>
<circle cx="583.3" cy="147.3" r="0.60" fill="#e2dccf"/>
<circle cx="581.3" cy="145.4" r="0.77" fill="#e2dccf"/>
<circle cx="578.9" cy="144.7" r="0.93" fill="#e2dccf"/>
<circle cx="583.6" cy="146.4" r="0.89" fill="#e2dccf"/>
<circle cx="594.5" cy="138.1" r="0.80" fill="#e2dccf"/>
<circle cx="587.8" cy="132.9" r="0.60" fill="#e2dccf"/>
<circle cx="593.2" cy="136.1" r="0.60" fill="#e2dccf"/>
</g></g>
<g transform="translate(602.20 60.20) scale(1.0000 1.0800)"><text x="0" y="0" font-size="15.5" font-weight="bold" text-anchor="start" fill="#000" stroke="#000" stroke-width="0.15">CDM</text></g>
<g transform="translate(607.68 127.10) scale(1.0250 1.0800)"><text x="0" y="0" font-size="15.5" font-weight="bold" text-anchor="start" fill="#000" stroke="#000" stroke-width="0.15">SHI</text></g>
<g transform="translate(381.92 223.25) scale(0.9811 0.9725)"><text x="0" y="0" font-size="12.5" font-weight="bold" text-anchor="start" fill="#000" stroke="#000" stroke-width="0.15" transform="rotate(-45)">Consortium</text></g>
<g transform="translate(528.61 200.19) scale(0.9419 0.9857)"><text x="0" y="0" font-size="12.5" font-weight="bold" text-anchor="start" fill="#000" stroke="#000" stroke-width="0.15" transform="rotate(-45)">Saliva</text></g>
<rect x="79.90" y="320.20" width="15.85" height="370.80" fill="#8cd283"/>
<rect x="97.25" y="320.20" width="15.50" height="370.80" fill="#8cd283"/>
<rect x="114.25" y="320.20" width="15.50" height="370.80" fill="#8cd283"/>
<rect x="131.25" y="320.20" width="15.50" height="370.80" fill="#8cd283"/>
<rect x="148.25" y="320.20" width="16.50" height="370.80" fill="#8cd283"/>
<rect x="166.25" y="320.20" width="15.50" height="370.80" fill="#8cd283"/>
<rect x="183.25" y="320.20" width="15.50" height="370.80" fill="#8cd283"/>
<rect x="183.25" y="689.89" width="15.50" height="1.11" fill="#beafd9"/>
<rect x="200.25" y="320.20" width="15.50" height="370.80" fill="#8cd283"/>
<rect x="200.25" y="689.89" width="15.50" height="1.11" fill="#beafd9"/>
<rect x="217.25" y="320.20" width="16.50" height="370.80" fill="#8cd283"/>
<rect x="217.25" y="689.89" width="16.50" height="1.11" fill="#beafd9"/>
<rect x="235.25" y="320.20" width="15.50" height="370.80" fill="#8cd283"/>
<rect x="235.25" y="689.52" width="15.50" height="1.48" fill="#ebb681"/>
<rect x="235.25" y="688.03" width="15.50" height="1.48" fill="#beafd9"/>
<rect x="252.25" y="320.20" width="15.50" height="370.80" fill="#8cd283"/>
<rect x="252.25" y="689.52" width="15.50" height="1.48" fill="#ebb681"/>
<rect x="252.25" y="688.03" width="15.50" height="1.48" fill="#beafd9"/>
<rect x="269.25" y="320.20" width="15.67" height="370.80" fill="#8cd283"/>
<rect x="269.25" y="689.52" width="15.67" height="1.48" fill="#ebb681"/>
<rect x="269.25" y="688.03" width="15.67" height="1.48" fill="#beafd9"/>
<line x1="79.10" y1="320.20" x2="79.10" y2="698.60" stroke="#222" stroke-width="1.3"/>
<line x1="78.50" y1="691.50" x2="286.80" y2="691.50" stroke="#222" stroke-width="1.3"/>
<line x1="71.70" y1="691.00" x2="79.10" y2="691.00" stroke="#222" stroke-width="1.4"/>
<text x="64.60" y="693.30" font-size="13" text-anchor="end" fill="#111" stroke="#111" stroke-width="0.35">0%</text>
<line x1="71.70" y1="653.92" x2="79.10" y2="653.92" stroke="#222" stroke-width="1.4"/>
<text x="68.40" y="656.17" font-size="13" text-anchor="end" fill="#111" stroke="#111" stroke-width="0.35">10%</text>
<line x1="71.70" y1="616.84" x2="79.10" y2="616.84" stroke="#222" stroke-width="1.4"/>
<text x="68.40" y="619.04" font-size="13" text-anchor="end" fill="#111" stroke="#111" stroke-width="0.35">20%</text>
<line x1="71.70" y1="579.76" x2="79.10" y2="579.76" stroke="#222" stroke-width="1.4"/>
<text x="68.40" y="581.91" font-size="13" text-anchor="end" fill="#111" stroke="#111" stroke-width="0.35">30%</text>
<line x1="71.70" y1="542.68" x2="79.10" y2="542.68" stroke="#222" stroke-width="1.4"/>
<text x="68.40" y="544.78" font-size="13" text-anchor="end" fill="#111" stroke="#111" stroke-width="0.35">40%</text>
<line x1="71.70" y1="505.60" x2="79.10" y2="505.60" stroke="#222" stroke-width="1.4"/>
<text x="68.40" y="507.65" font-size="13" text-anchor="end" fill="#111" stroke="#111" stroke-width="0.35">50%</text>
<line x1="71.70" y1="468.52" x2="79.10" y2="468.52" stroke="#222" stroke-width="1.4"/>
<text x="68.40" y="470.52" font-size="13" text-anchor="end" fill="#111" stroke="#111" stroke-width="0.35">60%</text>
<line x1="71.70" y1="431.44" x2="79.10" y2="431.44" stroke="#222" stroke-width="1.4"/>
<text x="68.40" y="433.39" font-size="13" text-anchor="end" fill="#111" stroke="#111" stroke-width="0.35">70%</text>
<line x1="71.70" y1="394.36" x2="79.10" y2="394.36" stroke="#222" stroke-width="1.4"/>
<text x="68.40" y="396.26" font-size="13" text-anchor="end" fill="#111" stroke="#111" stroke-width="0.35">80%</text>
<line x1="71.70" y1="357.28" x2="79.10" y2="357.28" stroke="#222" stroke-width="1.4"/>
<text x="68.40" y="359.13" font-size="13" text-anchor="end" fill="#111" stroke="#111" stroke-width="0.35">90%</text>
<line x1="71.70" y1="320.20" x2="79.10" y2="320.20" stroke="#222" stroke-width="1.4"/>
<text x="69.40" y="322.00" font-size="13" text-anchor="end" fill="#111" stroke="#111" stroke-width="0.35">100%</text>
<line x1="87.76" y1="691.50" x2="87.76" y2="698.00" stroke="#222" stroke-width="1.3"/>
<line x1="104.97" y1="691.50" x2="104.97" y2="698.00" stroke="#222" stroke-width="1.3"/>
<line x1="122.18" y1="691.50" x2="122.18" y2="698.00" stroke="#222" stroke-width="1.3"/>
<line x1="139.38" y1="691.50" x2="139.38" y2="698.00" stroke="#222" stroke-width="1.3"/>
<line x1="156.59" y1="691.50" x2="156.59" y2="698.00" stroke="#222" stroke-width="1.3"/>
<line x1="173.81" y1="691.50" x2="173.81" y2="698.00" stroke="#222" stroke-width="1.3"/>
<line x1="191.02" y1="691.50" x2="191.02" y2="698.00" stroke="#222" stroke-width="1.3"/>
<line x1="208.22" y1="691.50" x2="208.22" y2="698.00" stroke="#222" stroke-width="1.3"/>
<line x1="225.44" y1="691.50" x2="225.44" y2="698.00" stroke="#222" stroke-width="1.3"/>
<line x1="242.65" y1="691.50" x2="242.65" y2="698.00" stroke="#222" stroke-width="1.3"/>
<line x1="259.86" y1="691.50" x2="259.86" y2="698.00" stroke="#222" stroke-width="1.3"/>
<line x1="277.07" y1="691.50" x2="277.07" y2="698.00" stroke="#222" stroke-width="1.3"/>
<line x1="286.20" y1="691.50" x2="286.20" y2="698.00" stroke="#222" stroke-width="1.3"/>
<line x1="79.90" y1="710.30" x2="125.20" y2="710.30" stroke="#000" stroke-width="2.7"/>
<line x1="133.10" y1="710.30" x2="177.50" y2="710.30" stroke="#000" stroke-width="2.7"/>
<line x1="186.10" y1="710.30" x2="230.80" y2="710.30" stroke="#000" stroke-width="2.7"/>
<line x1="237.20" y1="710.30" x2="282.00" y2="710.30" stroke="#000" stroke-width="2.7"/>
<g transform="translate(82.60 747.39) scale(0.9807 0.9804)"><text x="0" y="0" font-size="13.5" font-weight="bold" text-anchor="middle" fill="#000" stroke="#000" stroke-width="0.15" transform="rotate(-45)"><tspan x="0" y="0.00">Consortium</tspan><tspan x="0" y="15.00">CDM</tspan></text></g>
<g transform="translate(141.93 747.48) scale(0.9719 0.9768)"><text x="0" y="0" font-size="13.5" font-weight="bold" text-anchor="middle" fill="#000" stroke="#000" stroke-width="0.15" transform="rotate(-45)"><tspan x="0" y="0.00">Consortium</tspan><tspan x="0" y="15.00">SHI</tspan></text></g>
<g transform="translate(200.07 732.59) scale(1.0300 0.9703)"><text x="0" y="0" font-size="13.5" font-weight="bold" text-anchor="middle" fill="#000" stroke="#000" stroke-width="0.15" transform="rotate(-45)"><tspan x="0" y="0.00">Saliva</tspan><tspan x="0" y="15.00">CDM</tspan></text></g>
<g transform="translate(251.47 732.75) scale(1.0405 0.9794)"><text x="0" y="0" font-size="13.5" font-weight="bold" text-anchor="middle" fill="#000" stroke="#000" stroke-width="0.15" transform="rotate(-45)"><tspan x="0" y="0.00">Saliva</tspan><tspan x="0" y="15.00">SHI</tspan></text></g>
<g transform="translate(32.01 537.20) scale(0.9286 0.9985)"><text x="0" y="0" font-size="15.3" text-anchor="start" fill="#111" stroke="#111" stroke-width="0.35" transform="rotate(-90)">Relative Frequency</text></g>
<g transform="translate(143.78 783.54) scale(1.0160 0.9857)"><text x="0" y="0" font-size="15.3" text-anchor="start" fill="#111" stroke="#111" stroke-width="0.35">Sample</text></g>
<rect x="389.00" y="317.00" width="15.75" height="374.20" fill="#8cd283"/>
<rect x="389.00" y="690.83" width="15.75" height="0.37" fill="#eef596"/>
<rect x="389.00" y="680.72" width="15.75" height="10.10" fill="#beafd9"/>
<rect x="406.25" y="317.00" width="15.50" height="374.20" fill="#8cd283"/>
<rect x="406.25" y="690.83" width="15.50" height="0.37" fill="#eef596"/>
<rect x="406.25" y="681.85" width="15.50" height="8.98" fill="#beafd9"/>
<rect x="423.25" y="317.00" width="15.50" height="374.20" fill="#8cd283"/>
<rect x="423.25" y="690.45" width="15.50" height="0.75" fill="#eef596"/>
<rect x="423.25" y="679.60" width="15.50" height="10.85" fill="#beafd9"/>
<rect x="440.25" y="317.00" width="14.50" height="374.20" fill="#8cd283"/>
<rect x="440.25" y="402.69" width="14.50" height="288.51" fill="#beafd9"/>
<rect x="456.25" y="317.00" width="15.50" height="374.20" fill="#8cd283"/>
<rect x="456.25" y="419.91" width="15.50" height="271.30" fill="#beafd9"/>
<rect x="473.25" y="317.00" width="15.50" height="374.20" fill="#8cd283"/>
<rect x="473.25" y="424.77" width="15.50" height="266.43" fill="#beafd9"/>
<rect x="490.25" y="317.00" width="15.50" height="374.20" fill="#8cd283"/>
<rect x="490.25" y="690.45" width="15.50" height="0.75" fill="#666666"/>
<rect x="507.25" y="317.00" width="15.50" height="374.20" fill="#8cd283"/>
<rect x="507.25" y="690.83" width="15.50" height="0.37" fill="#666666"/>
<rect x="524.25" y="317.00" width="15.50" height="374.20" fill="#8cd283"/>
<rect x="541.25" y="317.00" width="15.50" height="374.20" fill="#8cd283"/>
<rect x="541.25" y="690.08" width="15.50" height="1.12" fill="#c0612d"/>
<rect x="541.25" y="688.21" width="15.50" height="1.87" fill="#e52d88"/>
<rect x="541.25" y="686.34" width="15.50" height="1.87" fill="#4b74b4"/>
<rect x="541.25" y="684.09" width="15.50" height="2.25" fill="#eef596"/>
<rect x="541.25" y="682.22" width="15.50" height="1.87" fill="#ebb681"/>
<rect x="541.25" y="676.23" width="15.50" height="5.99" fill="#beafd9"/>
<rect x="558.25" y="317.00" width="15.50" height="374.20" fill="#8cd283"/>
<rect x="558.25" y="690.45" width="15.50" height="0.75" fill="#d04040"/>
<rect x="558.25" y="688.95" width="15.50" height="1.50" fill="#e52d88"/>
<rect x="558.25" y="687.46" width="15.50" height="1.50" fill="#5a8fa0"/>
<rect x="558.25" y="685.96" width="15.50" height="1.50" fill="#eef596"/>
<rect x="558.25" y="684.84" width="15.50" height="1.12" fill="#ebb681"/>
<rect x="558.25" y="654.90" width="15.50" height="29.94" fill="#beafd9"/>
<rect x="575.25" y="317.00" width="15.41" height="374.20" fill="#8cd283"/>
<rect x="575.25" y="690.45" width="15.41" height="0.75" fill="#c0612d"/>
<rect x="575.25" y="688.58" width="15.41" height="1.87" fill="#e52d88"/>
<rect x="575.25" y="686.71" width="15.41" height="1.87" fill="#4b74b4"/>
<rect x="575.25" y="685.59" width="15.41" height="1.12" fill="#eef596"/>
<rect x="575.25" y="684.09" width="15.41" height="1.50" fill="#ebb681"/>
<rect x="575.25" y="669.87" width="15.41" height="14.22" fill="#beafd9"/>
<line x1="387.90" y1="317.00" x2="387.90" y2="698.80" stroke="#222" stroke-width="1.3"/>
<line x1="387.30" y1="691.70" x2="594.20" y2="691.70" stroke="#222" stroke-width="1.3"/>
<line x1="378.30" y1="691.20" x2="387.90" y2="691.20" stroke="#222" stroke-width="1.4"/>
<text x="359.40" y="698.30" font-size="13" text-anchor="middle" fill="#111" stroke="#111" stroke-width="0.35">0%</text>
<line x1="378.30" y1="653.78" x2="387.90" y2="653.78" stroke="#222" stroke-width="1.4"/>
<text x="359.40" y="660.55" font-size="13" text-anchor="middle" fill="#111" stroke="#111" stroke-width="0.35">10%</text>
<line x1="378.30" y1="616.36" x2="387.90" y2="616.36" stroke="#222" stroke-width="1.4"/>
<text x="359.40" y="622.80" font-size="13" text-anchor="middle" fill="#111" stroke="#111" stroke-width="0.35">20%</text>
<line x1="378.30" y1="578.94" x2="387.90" y2="578.94" stroke="#222" stroke-width="1.4"/>
<text x="359.40" y="585.05" font-size="13" text-anchor="middle" fill="#111" stroke="#111" stroke-width="0.35">30%</text>
<line x1="378.30" y1="541.52" x2="387.90" y2="541.52" stroke="#222" stroke-width="1.4"/>
<text x="359.40" y="547.30" font-size="13" text-anchor="middle" fill="#111" stroke="#111" stroke-width="0.35">40%</text>
<line x1="378.30" y1="504.10" x2="387.90" y2="504.10" stroke="#222" stroke-width="1.4"/>
<text x="359.40" y="509.55" font-size="13" text-anchor="middle" fill="#111" stroke="#111" stroke-width="0.35">50%</text>
<line x1="378.30" y1="466.68" x2="387.90" y2="466.68" stroke="#222" stroke-width="1.4"/>
<text x="359.40" y="471.80" font-size="13" text-anchor="middle" fill="#111" stroke="#111" stroke-width="0.35">60%</text>
<line x1="378.30" y1="429.26" x2="387.90" y2="429.26" stroke="#222" stroke-width="1.4"/>
<text x="359.40" y="434.05" font-size="13" text-anchor="middle" fill="#111" stroke="#111" stroke-width="0.35">70%</text>
<line x1="378.30" y1="391.84" x2="387.90" y2="391.84" stroke="#222" stroke-width="1.4"/>
<text x="359.40" y="396.30" font-size="13" text-anchor="middle" fill="#111" stroke="#111" stroke-width="0.35">80%</text>
<line x1="378.30" y1="354.42" x2="387.90" y2="354.42" stroke="#222" stroke-width="1.4"/>
<text x="359.40" y="358.55" font-size="13" text-anchor="middle" fill="#111" stroke="#111" stroke-width="0.35">90%</text>
<line x1="378.30" y1="317.00" x2="387.90" y2="317.00" stroke="#222" stroke-width="1.4"/>
<text x="359.40" y="320.80" font-size="13" text-anchor="middle" fill="#111" stroke="#111" stroke-width="0.35">100%</text>
<line x1="396.71" y1="691.70" x2="396.71" y2="698.20" stroke="#222" stroke-width="1.3"/>
<line x1="413.64" y1="691.70" x2="413.64" y2="698.20" stroke="#222" stroke-width="1.3"/>
<line x1="430.57" y1="691.70" x2="430.57" y2="698.20" stroke="#222" stroke-width="1.3"/>
<line x1="447.50" y1="691.70" x2="447.50" y2="698.20" stroke="#222" stroke-width="1.3"/>
<line x1="464.44" y1="691.70" x2="464.44" y2="698.20" stroke="#222" stroke-width="1.3"/>
<line x1="481.36" y1="691.70" x2="481.36" y2="698.20" stroke="#222" stroke-width="1.3"/>
<line x1="498.29" y1="691.70" x2="498.29" y2="698.20" stroke="#222" stroke-width="1.3"/>
<line x1="515.23" y1="691.70" x2="515.23" y2="698.20" stroke="#222" stroke-width="1.3"/>
<line x1="532.16" y1="691.70" x2="532.16" y2="698.20" stroke="#222" stroke-width="1.3"/>
<line x1="549.09" y1="691.70" x2="549.09" y2="698.20" stroke="#222" stroke-width="1.3"/>
<line x1="566.01" y1="691.70" x2="566.01" y2="698.20" stroke="#222" stroke-width="1.3"/>
<line x1="582.95" y1="691.70" x2="582.95" y2="698.20" stroke="#222" stroke-width="1.3"/>
<line x1="593.60" y1="691.70" x2="593.60" y2="698.20" stroke="#222" stroke-width="1.3"/>
<line x1="391.00" y1="708.30" x2="436.50" y2="708.30" stroke="#000" stroke-width="2.7"/>
<line x1="444.10" y1="708.30" x2="485.90" y2="708.30" stroke="#000" stroke-width="2.7"/>
<line x1="496.10" y1="708.30" x2="537.10" y2="708.30" stroke="#000" stroke-width="2.7"/>
<line x1="545.40" y1="708.30" x2="587.20" y2="708.30" stroke="#000" stroke-width="2.7"/>
<g transform="translate(388.11 744.24) scale(0.9842 0.9786)"><text x="0" y="0" font-size="13.5" font-weight="bold" text-anchor="middle" fill="#000" stroke="#000" stroke-width="0.15" transform="rotate(-45)"><tspan x="0" y="0.00">Consortium</tspan><tspan x="0" y="15.00">CDM</tspan></text></g>
<g transform="translate(448.97 744.24) scale(0.9667 0.9786)"><text x="0" y="0" font-size="13.5" font-weight="bold" text-anchor="middle" fill="#000" stroke="#000" stroke-width="0.15" transform="rotate(-45)"><tspan x="0" y="0.00">Consortium</tspan><tspan x="0" y="15.00">SHI</tspan></text></g>
<g transform="translate(511.82 731.58) scale(1.0275 0.9811)"><text x="0" y="0" font-size="13.5" font-weight="bold" text-anchor="middle" fill="#000" stroke="#000" stroke-width="0.15" transform="rotate(-45)"><tspan x="0" y="0.00">Saliva</tspan><tspan x="0" y="15.00">CDM</tspan></text></g>
<g transform="translate(568.12 731.70) scale(1.0432 0.9882)"><text x="0" y="0" font-size="13.5" font-weight="bold" text-anchor="middle" fill="#000" stroke="#000" stroke-width="0.15" transform="rotate(-45)"><tspan x="0" y="0.00">Saliva</tspan><tspan x="0" y="15.00">SHI</tspan></text></g>
<g transform="translate(332.35 527.51) scale(0.8500 1.0084)"><text x="0" y="0" font-size="15.3" text-anchor="start" fill="#111" stroke="#111" stroke-width="0.35" transform="rotate(-90)">Relative Frequency</text></g>
<g transform="translate(460.10 784.30) scale(1.0000 1.0000)"><text x="0" y="0" font-size="15.3" text-anchor="start" fill="#111" stroke="#111" stroke-width="0.35">Sample</text></g>
<g transform="translate(42.97 802.75) scale(1.0346 0.9500)"><text x="0" y="0" font-size="15" font-weight="bold" text-anchor="start" fill="#222" stroke="#222" stroke-width="0.15">Phylum</text></g>
<rect x="47.90" y="810.70" width="14.60" height="14.60" fill="#8cd283"/>
<rect x="47.90" y="827.10" width="14.60" height="14.60" fill="#beafd9"/>
<rect x="47.90" y="843.40" width="14.60" height="14.60" fill="#ebb681"/>
<rect x="47.90" y="859.80" width="14.60" height="14.60" fill="#eef596"/>
<rect x="47.90" y="876.10" width="14.60" height="14.60" fill="#4b74b4"/>
<g transform="translate(67.54 822.43) scale(1.0580 0.9750)"><text x="0" y="0" font-size="14.5" text-anchor="start" fill="#111" stroke="#111" stroke-width="0.35">Firmicutes D</text></g>
<g transform="translate(67.54 838.83) scale(1.0580 0.9750)"><text x="0" y="0" font-size="14.5" text-anchor="start" fill="#111" stroke="#111" stroke-width="0.35">Proteobacteria</text></g>
<g transform="translate(68.60 855.12) scale(1.0580 0.9750)"><text x="0" y="0" font-size="14.5" text-anchor="start" fill="#111" stroke="#111" stroke-width="0.35">Actinobacteriota</text></g>
<g transform="translate(67.54 871.93) scale(1.0580 0.9750)"><text x="0" y="0" font-size="14.5" text-anchor="start" fill="#111" stroke="#111" stroke-width="0.35">Firmicutes C</text></g>
<g transform="translate(70.04 890.93) scale(1.0580 0.9750)"><text x="0" y="0" font-size="14.5" text-anchor="start" fill="#111" stroke="#111" stroke-width="0.35">Bacteroidota</text></g>
<g transform="translate(314.74 803.25) scale(1.0580 0.9750)"><text x="0" y="0" font-size="14.5" font-weight="bold" text-anchor="start" fill="#000" stroke="#000" stroke-width="0.15">Genus</text></g>
<rect x="314.90" y="809.90" width="12.80" height="12.80" fill="#8cd283"/>
<rect x="314.90" y="825.20" width="12.80" height="12.80" fill="#beafd9"/>
<rect x="314.90" y="840.40" width="12.80" height="12.80" fill="#ebb681"/>
<rect x="314.90" y="855.70" width="12.80" height="12.80" fill="#eef596"/>
<rect x="314.90" y="870.90" width="12.80" height="12.80" fill="#4b74b4"/>
<rect x="314.90" y="886.20" width="12.80" height="12.80" fill="#e52d88"/>
<rect x="314.90" y="901.40" width="12.80" height="12.80" fill="#c0612d"/>
<g transform="translate(331.64 820.35) scale(1.0580 0.9750)"><text x="0" y="0" font-size="14.5" text-anchor="start" fill="#111" stroke="#111" stroke-width="0.35">Streptococcus</text></g>
<g transform="translate(331.64 835.73) scale(1.0580 0.9750)"><text x="0" y="0" font-size="14.5" text-anchor="start" fill="#111" stroke="#111" stroke-width="0.35">Ligilactobacillus</text></g>
<g transform="translate(331.64 851.62) scale(1.0580 0.9750)"><text x="0" y="0" font-size="14.5" text-anchor="start" fill="#111" stroke="#111" stroke-width="0.35">Neisseria 563205</text></g>
<g transform="translate(332.04 868.12) scale(1.0580 0.9750)"><text x="0" y="0" font-size="14.5" text-anchor="start" fill="#111" stroke="#111" stroke-width="0.35">Limosilactobacillus</text></g>
<g transform="translate(332.04 883.02) scale(1.0580 0.9750)"><text x="0" y="0" font-size="14.5" text-anchor="start" fill="#111" stroke="#111" stroke-width="0.35">Gemella</text></g>
<g transform="translate(332.04 898.83) scale(1.0580 0.9750)"><text x="0" y="0" font-size="14.5" text-anchor="start" fill="#111" stroke="#111" stroke-width="0.35">Rothia</text></g>
<g transform="translate(332.04 913.83) scale(1.0580 0.9750)"><text x="0" y="0" font-size="14.5" text-anchor="start" fill="#111" stroke="#111" stroke-width="0.35">Order Lactobacillales,</text></g>
<g transform="translate(332.04 932.23) scale(1.0580 0.9750)"><text x="0" y="0" font-size="14.5" text-anchor="start" fill="#111" stroke="#111" stroke-width="0.35">unclassified</text></g>
<rect x="489.60" y="808.40" width="12.80" height="12.80" fill="#666666"/>
<rect x="489.60" y="823.60" width="12.80" height="12.80" fill="#8cd283"/>
<rect x="489.60" y="838.90" width="12.80" height="12.80" fill="#beafd9"/>
<rect x="489.60" y="854.10" width="12.80" height="12.80" fill="#ebb681"/>
<rect x="489.60" y="869.40" width="12.80" height="12.80" fill="#eef596"/>
<rect x="489.60" y="906.80" width="12.80" height="12.80" fill="#4b74b4"/>
<rect x="489.60" y="922.10" width="12.80" height="12.80" fill="#e52d88"/>
<g transform="translate(506.54 818.62) scale(1.0580 0.9750)"><text x="0" y="0" font-size="14.5" text-anchor="start" fill="#111" stroke="#111" stroke-width="0.35">Haemophilus D 735815</text></g>
<g transform="translate(506.54 834.52) scale(1.0580 0.9750)"><text x="0" y="0" font-size="14.5" text-anchor="start" fill="#111" stroke="#111" stroke-width="0.35">Staphylococcus</text></g>
<g transform="translate(507.60 848.52) scale(1.0580 0.9750)"><text x="0" y="0" font-size="14.5" text-anchor="start" fill="#111" stroke="#111" stroke-width="0.35">Veillonella A</text></g>
<g transform="translate(507.60 863.93) scale(1.0580 0.9750)"><text x="0" y="0" font-size="14.5" text-anchor="start" fill="#111" stroke="#111" stroke-width="0.35">Abiotrophia</text></g>
<g transform="translate(506.54 880.23) scale(1.0580 0.9750)"><text x="0" y="0" font-size="14.5" text-anchor="start" fill="#111" stroke="#111" stroke-width="0.35">Family Pasteurellaceae,</text></g>
<g transform="translate(506.54 898.23) scale(1.0580 0.9750)"><text x="0" y="0" font-size="14.5" text-anchor="start" fill="#111" stroke="#111" stroke-width="0.35">unclassified</text></g>
<g transform="translate(506.54 917.12) scale(1.0580 0.9750)"><text x="0" y="0" font-size="14.5" text-anchor="start" fill="#111" stroke="#111" stroke-width="0.35">Porphyromonas A 859423</text></g>
<g transform="translate(508.44 935.02) scale(1.0580 0.9750)"><text x="0" y="0" font-size="14.5" text-anchor="start" fill="#111" stroke="#111" stroke-width="0.35">Granulicatella</text></g>
</svg>
</body></html>
